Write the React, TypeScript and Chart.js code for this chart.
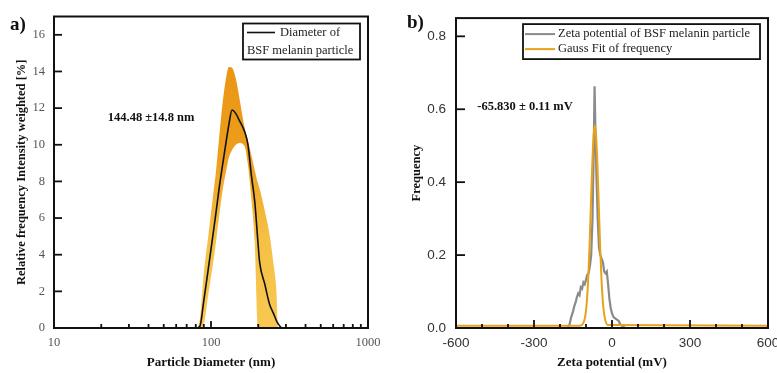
import React, { useEffect, useRef } from "react";
import { Chart, registerables } from "chart.js";
Chart.register(...registerables);

// ---------- panel a) data ----------
const DIAMETER = [70, 80, 85, 90, 96, 103, 108, 113, 119, 125, 130, 136, 144, 152, 164, 172, 181, 190, 199, 204, 220, 236, 250, 261, 267, 285, 300];
const MEAN = [0, 0, 0.1, 1.5, 3.2, 5.1, 6.4, 7.7, 9.0, 10.2, 11.1, 11.9, 11.7, 11.3, 10.7, 10.0, 8.3, 6.9, 4.7, 3.6, 2.4, 1.3, 0.8, 0.4, 0.25, 0, 0];
const UPPER = [0, 0, 0.5, 3.0, 5.0, 7.2, 8.7, 10.5, 12.4, 13.7, 14.25, 14.2, 13.6, 12.5, 10.9, 10.2, 9.4, 8.6, 7.9, 7.6, 6.4, 5.1, 3.5, 2.0, 0, 0, 0];
const LOWER = [0, 0, 0, 0.2, 1.8, 3.5, 4.8, 6.2, 7.6, 8.6, 9.3, 9.7, 10.0, 10.1, 9.9, 8.9, 7.0, 4.6, 0, 0, 0, 0, 0, 0, 0, 0, 0];
const Y_TICKS_A = [0, 2, 4, 6, 8, 10, 12, 14, 16];
const X_TICKS_A = [10, 100, 1000];
const X_MINOR_A = [20, 30, 40, 50, 60, 70, 80, 90, 200, 300, 400, 500, 600, 700, 800, 900];
const LEGEND_A = ["Diameter of", "BSF melanin particle"];
const NOTE_A = "144.48 \u00b114.8 nm";

// ---------- panel b) data ----------
const ZETA_X = [-600, -170, -163, -157, -150, -145, -140, -135, -130, -125, -120, -115, -110, -105, -100, -96, -90, -85, -80, -75, -70, -67, -64, -60, -55, -50, -45, -40, -35, -30, -25, -20, -15, -10, -5, 0, 6, 15, 25, 32, 40, 50, 600];
const ZETA_FREQ = [0, 0, 0.01, 0.03, 0.045, 0.06, 0.07, 0.085, 0.095, 0.09, 0.112, 0.108, 0.125, 0.12, 0.132, 0.145, 0.15, 0.17, 0.2, 0.3, 0.5, 0.663, 0.55, 0.42, 0.3, 0.22, 0.2, 0.19, 0.18, 0.155, 0.15, 0.155, 0.12, 0.08, 0.055, 0.04, 0.03, 0.025, 0.02, 0.01, 0.005, 0, 0];
const GAUSS_X = [-600, -126, -116, -106, -101, -96, -91, -86, -81, -76, -71, -66, -61, -56, -51, -46, -41, -36, -31, -26, -16, 600];
const GAUSS_FREQ = [0.006, 0.006, 0.008, 0.022, 0.042, 0.08, 0.143, 0.232, 0.34, 0.446, 0.526, 0.556, 0.526, 0.446, 0.34, 0.232, 0.143, 0.08, 0.042, 0.022, 0.008, 0.006];
const Y_TICKS_B = [0, 0.2, 0.4, 0.6, 0.8];
const X_TICKS_B = [-600, -300, 0, 300, 600];
const X_MAJOR_B = [-300, 0, 300];
const X_MINOR_B = [-500, -400, -200, -100, 100, 200, 400, 500];
const LEGEND_B = ["Zeta potential of BSF melanin particle", "Gauss Fit of frequency"];
const NOTE_B = "-65.830 \u00b1 0.11 mV";

const SERIF = '"Liberation Serif", "Times New Roman", serif';
const SANS = '"Liberation Sans", Arial, sans-serif';
const GRAY = "#8a8a8a";
const ORANGE = "#e9a21a";

function line(ctx: CanvasRenderingContext2D, x1: number, y1: number, x2: number, y2: number) {
  ctx.beginPath();
  ctx.moveTo(x1, y1);
  ctx.lineTo(x2, y2);
  ctx.stroke();
}

const decorA = {
  id: "decorA",
  afterDraw(chart: any) {
    const { ctx, chartArea: a, scales } = chart;
    const xs = scales.x, ys = scales.y;
    ctx.save();
    ctx.strokeStyle = "#111";
    ctx.lineWidth = 1.8;
    for (const v of Y_TICKS_A) { const p = ys.getPixelForValue(v); line(ctx, a.left, p, a.left + 8, p); }
    for (const v of X_MINOR_A) { const p = xs.getPixelForValue(v); line(ctx, p, a.bottom, p, a.bottom - 4); }
    { const p = xs.getPixelForValue(100); line(ctx, p, a.bottom, p, a.bottom - 7); }
    ctx.lineWidth = 2;
    ctx.strokeRect(a.left, a.top, a.right - a.left, a.bottom - a.top);
    // legend
    const bx = a.right - 125, by = a.top + 7, bw = 117, bh = 36;
    ctx.fillStyle = "#fff";
    ctx.fillRect(bx, by, bw, bh);
    ctx.lineWidth = 1.8;
    ctx.strokeRect(bx, by, bw, bh);
    ctx.lineWidth = 1.6;
    line(ctx, bx + 4, by + 9, bx + 32, by + 9);
    ctx.fillStyle = "#222";
    ctx.font = `12.5px ${SERIF}`;
    ctx.textBaseline = "middle";
    ctx.textAlign = "left";
    ctx.fillText(LEGEND_A[0], bx + 37, by + 9);
    ctx.fillText(LEGEND_A[1], bx + 4, by + 27);
    // note
    ctx.fillStyle = "#111";
    ctx.font = `bold 12.5px ${SERIF}`;
    ctx.fillText(NOTE_A, xs.getPixelForValue(22), ys.getPixelForValue(11.45));
    ctx.font = `bold 19px ${SERIF}`;
    ctx.fillText("a)", 10, 25);
    ctx.restore();
  },
};

const decorB = {
  id: "decorB",
  afterDraw(chart: any) {
    const { ctx, chartArea: a, scales } = chart;
    const xs = scales.x, ys = scales.y;
    ctx.save();
    ctx.strokeStyle = "#111";
    ctx.lineWidth = 1.8;
    for (const v of Y_TICKS_B) { const p = ys.getPixelForValue(v); line(ctx, a.left, p, a.left + 9, p); }
    for (const v of X_MINOR_B) { const p = xs.getPixelForValue(v); line(ctx, p, a.bottom, p, a.bottom - 4); }
    for (const v of X_MAJOR_B) { const p = xs.getPixelForValue(v); line(ctx, p, a.bottom, p, a.bottom - 8); }
    ctx.lineWidth = 2;
    ctx.strokeRect(a.left, a.top, a.right - a.left, a.bottom - a.top);
    // legend
    const bx = a.left + 67, by = a.top + 6, bw = 237, bh = 35;
    ctx.fillStyle = "#fff";
    ctx.fillRect(bx, by, bw, bh);
    ctx.lineWidth = 1.8;
    ctx.strokeRect(bx, by, bw, bh);
    ctx.lineWidth = 2;
    ctx.strokeStyle = GRAY;
    line(ctx, bx + 2, by + 10, bx + 32, by + 10);
    ctx.strokeStyle = ORANGE;
    line(ctx, bx + 2, by + 25, bx + 32, by + 25);
    ctx.fillStyle = "#222";
    ctx.font = `12.5px ${SERIF}`;
    ctx.textBaseline = "middle";
    ctx.textAlign = "left";
    ctx.fillText(LEGEND_B[0], bx + 35, by + 10);
    ctx.fillText(LEGEND_B[1], bx + 35, by + 25);
    // note
    ctx.fillStyle = "#111";
    ctx.font = `bold 12.5px ${SERIF}`;
    ctx.fillText(NOTE_B, xs.getPixelForValue(-518), ys.getPixelForValue(0.607));
    ctx.font = `bold 19px ${SERIF}`;
    ctx.fillText("b)", 17, 23);
    ctx.restore();
  },
};

function bandColor(c: any) {
  const chart = c.chart;
  if (!chart.chartArea || !chart.scales.y) return "#f2ae2e";
  const ys = chart.scales.y;
  const g = chart.ctx.createLinearGradient(0, ys.getPixelForValue(14.3), 0, ys.getPixelForValue(0));
  g.addColorStop(0, "#ea9614");
  g.addColorStop(0.35, "#ed9e1c");
  g.addColorStop(0.5, "#f2b030");
  g.addColorStop(0.65, "#f5c045");
  g.addColorStop(1, "#f8c852");
  return g;
}

function makeA(canvas: HTMLCanvasElement) {
  const pts = (ys: number[]) => DIAMETER.map((x, i) => ({ x, y: ys[i] }));
  return new Chart(canvas, {
    type: "line",
    data: {
      datasets: [
        { label: "upper", order: 2, data: pts(UPPER), borderWidth: 0, pointRadius: 0, fill: "+1", backgroundColor: bandColor, cubicInterpolationMode: "monotone" },
        { label: "lower", order: 2, data: pts(LOWER), borderWidth: 0, pointRadius: 0, fill: false, cubicInterpolationMode: "monotone" },
        { label: "Diameter of BSF melanin particle", order: 0, data: pts(MEAN), borderColor: "#111", borderWidth: 1.6, pointRadius: 0, fill: false, cubicInterpolationMode: "monotone" },
      ],
    } as any,
    options: {
      responsive: false,
      animation: false,
      layout: { padding: { top: 14, right: 22, left: 0, bottom: 0 } },
      plugins: { legend: { display: false }, tooltip: { enabled: false } },
      scales: {
        x: {
          type: "logarithmic", min: 10, max: 1000,
          afterBuildTicks: (s: any) => { s.ticks = X_TICKS_A.map((v) => ({ value: v })); },
          afterFit: (s: any) => { s.height = 45; },
          grid: { display: false, drawTicks: false }, border: { display: false },
          ticks: { padding: 7.5, autoSkip: false, maxRotation: 0, color: "#555", font: { family: SERIF, size: 12.5 }, callback: (v: any) => String(v) },
          title: { display: true, text: "Particle Diameter (nm)", color: "#111", font: { family: SERIF, size: 13, weight: "bold" }, padding: { top: 0, bottom: 3 } },
        },
        y: {
          min: 0, max: 17,
          afterBuildTicks: (s: any) => { s.ticks = Y_TICKS_A.map((v) => ({ value: v })); },
          afterFit: (s: any) => { s.width = 54; },
          grid: { display: false, drawTicks: false }, border: { display: false },
          ticks: { padding: 9, color: "#555", font: { family: SERIF, size: 12.5 }, callback: (v: any) => String(v) },
          title: { display: true, text: "Relative frequency Intensity weighted [%]", color: "#111", font: { family: SERIF, size: 12.5, weight: "bold" }, padding: { top: 14, bottom: 0 } },
        },
      },
    } as any,
    plugins: [decorA],
  });
}

function makeB(canvas: HTMLCanvasElement) {
  return new Chart(canvas, {
    type: "line",
    data: {
      datasets: [
        { label: LEGEND_B[0], order: 1, data: ZETA_X.map((x, i) => ({ x, y: ZETA_FREQ[i] })), borderColor: GRAY, borderWidth: 2.2, pointRadius: 0, fill: false, tension: 0 },
        { label: LEGEND_B[1], order: 0, data: GAUSS_X.map((x, i) => ({ x, y: GAUSS_FREQ[i] })), borderColor: ORANGE, borderWidth: 2, pointRadius: 0, fill: false, cubicInterpolationMode: "monotone" },
      ],
    } as any,
    options: {
      responsive: false,
      animation: false,
      layout: { padding: { top: 14, right: 22, left: 0, bottom: 0 } },
      plugins: { legend: { display: false }, tooltip: { enabled: false } },
      scales: {
        x: {
          type: "linear", min: -600, max: 600,
          afterBuildTicks: (s: any) => { s.ticks = X_TICKS_B.map((v) => ({ value: v })); },
          afterFit: (s: any) => { s.height = 45; },
          grid: { display: false, drawTicks: false }, border: { display: false },
          ticks: { padding: 7, autoSkip: false, maxRotation: 0, color: "#333", font: { family: SANS, size: 13.5 }, callback: (v: any) => String(v) },
          title: { display: true, text: "Zeta potential (mV)", color: "#111", font: { family: SERIF, size: 13, weight: "bold" }, padding: { top: 0, bottom: 3 } },
        },
        y: {
          min: 0, max: 0.85,
          afterBuildTicks: (s: any) => { s.ticks = Y_TICKS_B.map((v) => ({ value: v })); },
          afterFit: (s: any) => { s.width = 66; },
          grid: { display: false, drawTicks: false }, border: { display: false },
          ticks: { padding: 10, color: "#333", font: { family: SANS, size: 13.5 }, callback: (v: any) => Number(v).toFixed(1) },
          title: { display: true, text: "Frequency", color: "#111", font: { family: SERIF, size: 12.5, weight: "bold" }, padding: { top: 19.5, bottom: 0 } },
        },
      },
    } as any,
    plugins: [decorB],
  });
}

export default function App() {
  const refA = useRef<HTMLCanvasElement>(null);
  const refB = useRef<HTMLCanvasElement>(null);
  useEffect(() => {
    const a = makeA(refA.current!);
    const b = makeB(refB.current!);
    return () => { a.destroy(); b.destroy(); };
  }, []);
  return (
    <div style={{ position: "fixed", left: 0, top: 0, width: 777, height: 373, overflow: "hidden", background: "#fff" }}>
      <canvas ref={refA} width={390} height={373} style={{ position: "absolute", left: 0, top: 0, width: 390, height: 373 }} />
      <canvas ref={refB} width={400} height={373} style={{ position: "absolute", left: 390, top: 0, width: 400, height: 373 }} />
    </div>
  );
}
